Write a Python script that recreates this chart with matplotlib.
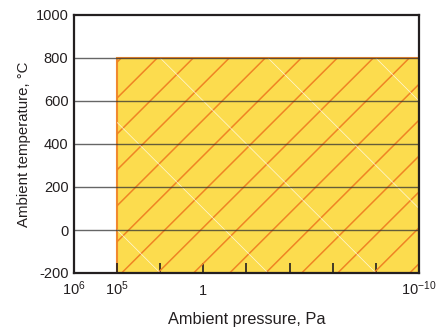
import matplotlib
matplotlib.use("Agg")
import matplotlib.pyplot as plt
import numpy as np
from matplotlib.patches import Rectangle

plt.rcParams['font.family'] = ['Liberation Sans', 'DejaVu Sans']
plt.rcParams['mathtext.fontset'] = 'custom'
plt.rcParams['mathtext.rm'] = 'Liberation Sans'
plt.rcParams['mathtext.it'] = 'Liberation Sans'

# Schematic pressure axis: tick positions and labels
x_tick_pos = [0, 1, 2, 3, 4, 5, 6, 7, 8]
x_tick_labels = [r'$10^{6}$', r'$10^{5}$', '', '1', '', '', '', '', r'$10^{-10}$']
y_ticks = [-200, 0, 200, 400, 600, 800, 1000]
grid_levels = [0, 200, 400, 600, 800]

# Operating region: from 10^5 Pa (pos 1) to 10^-10 Pa (pos 8), -200 .. 800 °C
region_x = [1, 8]
region_y = [-200, 800]

fig = plt.figure(figsize=(4.39, 3.35), dpi=100)
ax = fig.add_axes([74/439, 1 - 273/335, (419-74)/439, (273-15)/335])
ax.set_xlim(0, 8)
ax.set_ylim(-200, 1000)

yellow = '#FCDC4E'
orange = '#F08A2E'

rect = Rectangle((region_x[0], region_y[0]), region_x[1]-region_x[0], region_y[1]-region_y[0],
                 facecolor=yellow, edgecolor=orange, lw=1.5, zorder=1)
ax.add_patch(rect)

# hatching lines (45° in pixel space: 1 x unit ~ 200 y units)
ys = np.array([-400, 1200])
for c in np.arange(-2.07 - 0.835*8, 12, 0.835):
    l, = ax.plot(c + ys/200, ys, color='#EF8424', lw=1.1, zorder=2)
    l.set_clip_path(rect)
for c in np.arange(1.0 - 2.5*3, 16, 2.5):
    l, = ax.plot(c - ys/200, ys, color='white', lw=0.5, alpha=0.8, zorder=2)
    l.set_clip_path(rect)

for g in grid_levels:
    ax.axhline(g, color='#333333', lw=1.0, alpha=0.75, zorder=3)

for s in ax.spines.values():
    s.set_color('#231f20')
    s.set_linewidth(1.6)
    s.set_zorder(5)

ax.set_xticks(x_tick_pos)
ax.set_xticklabels(x_tick_labels, fontsize=10.5, color='#231f20')
for lab in ax.get_xticklabels():
    lab.set_va('baseline')
ax.tick_params(axis='x', direction='in', length=7, width=1.2, color='#231f20', pad=16)
ax.set_yticks(y_ticks)
ax.set_yticklabels([str(v) for v in y_ticks], fontsize=10.5, color='#231f20')
ax.tick_params(axis='y', length=0, pad=4)

ax.set_xlabel('Ambient pressure, Pa', fontsize=11.8, color='#231f20', labelpad=10)
ax.set_ylabel('Ambient temperature, °C', fontsize=10.8, color='#231f20', labelpad=3)

fig.savefig('out.png', dpi=100)
